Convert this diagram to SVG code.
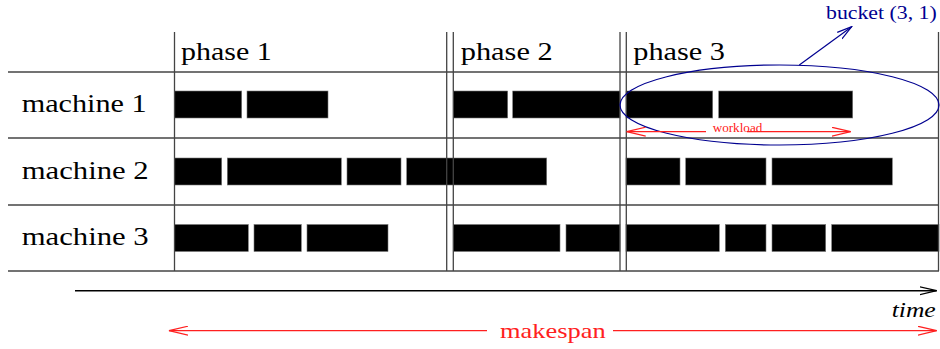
<svg xmlns="http://www.w3.org/2000/svg" width="940" height="349" viewBox="0 0 940 349">
<defs>
<style>
.grid{stroke:#444;stroke-width:1.3;fill:none}
.bar{fill:#000;stroke:#777;stroke-width:0.6}
.red{stroke:#ff2020;stroke-width:1.3;fill:none}
.blue{stroke:#000090;stroke-width:1.2;fill:none}
</style>
<marker id="openBlack" viewBox="0 0 18 10" refX="17" refY="5" markerWidth="18" markerHeight="10" markerUnits="userSpaceOnUse" orient="auto-start-reverse">
<path d="M0,1 L17,5 L0,9" fill="none" stroke="#000" stroke-width="1.2"/>
</marker>
<marker id="openRed" viewBox="0 0 20 10" refX="19" refY="5" markerWidth="20" markerHeight="10" markerUnits="userSpaceOnUse" orient="auto-start-reverse">
<path d="M0,0.5 L19,5 L0,9.5" fill="none" stroke="#ff2020" stroke-width="1.2"/>
</marker>
<marker id="openBlue" viewBox="0 0 16 10" refX="15" refY="5" markerWidth="16" markerHeight="10" markerUnits="userSpaceOnUse" orient="auto">
<path d="M0,1 L15,5 L0,9" fill="none" stroke="#000090" stroke-width="1.2"/>
</marker>
</defs>
<rect width="940" height="349" fill="#fff"/>

<g id="grid">
<line class="grid" x1="8" y1="72" x2="939" y2="72"/>
<line class="grid" x1="8" y1="138" x2="939" y2="138"/>
<line class="grid" x1="8" y1="205" x2="939" y2="205"/>
<line class="grid" x1="8" y1="271" x2="939" y2="271"/>
</g>

<g id="machine1">
<text x="21.7" y="112" font-family="Liberation Serif, Times New Roman, serif" font-size="25" fill="#000" textLength="125" lengthAdjust="spacingAndGlyphs">machine 1</text>
<rect class="bar" x="174.5" y="91" width="67.2" height="27"/>
<rect class="bar" x="247" y="91" width="81" height="27"/>
<rect class="bar" x="453.3" y="91" width="54.4" height="27"/>
<rect class="bar" x="512.7" y="91" width="107.3" height="27"/>
<rect class="bar" x="626" y="91" width="86.7" height="27"/>
<rect class="bar" x="718.7" y="91" width="134" height="27"/>
</g>

<g id="machine2">
<text x="21.7" y="178.5" font-family="Liberation Serif, Times New Roman, serif" font-size="25" fill="#000" textLength="127" lengthAdjust="spacingAndGlyphs">machine 2</text>
<rect class="bar" x="174.5" y="158" width="47.2" height="27"/>
<rect class="bar" x="227.3" y="158" width="114" height="27"/>
<rect class="bar" x="347" y="158" width="54" height="27"/>
<rect class="bar" x="406.7" y="158" width="140" height="27"/>
<rect class="bar" x="626" y="158" width="54" height="27"/>
<rect class="bar" x="685.7" y="158" width="80.3" height="27"/>
<rect class="bar" x="772" y="158" width="120.3" height="27"/>
</g>

<g id="machine3">
<text x="21.7" y="245" font-family="Liberation Serif, Times New Roman, serif" font-size="25" fill="#000" textLength="127" lengthAdjust="spacingAndGlyphs">machine 3</text>
<rect class="bar" x="174.5" y="224.5" width="73.8" height="27"/>
<rect class="bar" x="254" y="224.5" width="47.3" height="27"/>
<rect class="bar" x="307" y="224.5" width="81" height="27"/>
<rect class="bar" x="453.3" y="224.5" width="106.7" height="27"/>
<rect class="bar" x="566" y="224.5" width="54" height="27"/>
<rect class="bar" x="626" y="224.5" width="93.3" height="27"/>
<rect class="bar" x="725.3" y="224.5" width="40.7" height="27"/>
<rect class="bar" x="772" y="224.5" width="53.7" height="27"/>
<rect class="bar" x="831.7" y="224.5" width="107.3" height="27"/>
</g>

<g id="phases">
<line class="grid" x1="174.5" y1="32" x2="174.5" y2="271"/>
<line class="grid" x1="446.7" y1="32" x2="446.7" y2="271"/>
<line class="grid" x1="453.3" y1="32" x2="453.3" y2="271"/>
<line class="grid" x1="620" y1="32" x2="620" y2="271"/>
<line class="grid" x1="626.3" y1="32" x2="626.3" y2="271"/>
<line class="grid" x1="938.5" y1="32" x2="938.5" y2="271"/>
<text x="181" y="59.5" font-family="Liberation Serif, Times New Roman, serif" font-size="25" fill="#000" textLength="90.7" lengthAdjust="spacingAndGlyphs">phase 1</text>
<text x="460.7" y="59.5" font-family="Liberation Serif, Times New Roman, serif" font-size="25" fill="#000" textLength="92" lengthAdjust="spacingAndGlyphs">phase 2</text>
<text x="633.3" y="59.5" font-family="Liberation Serif, Times New Roman, serif" font-size="25" fill="#000" textLength="91.7" lengthAdjust="spacingAndGlyphs">phase 3</text>
</g>

<g id="bucket">
<ellipse class="blue" cx="779.5" cy="105" rx="159.5" ry="40"/>
<text x="826" y="18.5" font-family="Liberation Serif, Times New Roman, serif" font-size="18.5" fill="#000090" textLength="110.7" lengthAdjust="spacingAndGlyphs">bucket (3, 1)</text>
</g>

<g id="connectors">
<line class="blue" x1="799.3" y1="65" x2="851.7" y2="26.7" marker-end="url(#openBlue)"/>
<line class="red" x1="706" y1="131.7" x2="626.7" y2="131.7" marker-end="url(#openRed)"/>
<line class="red" x1="747" y1="131.7" x2="850.7" y2="131.7" marker-end="url(#openRed)"/>
<line x1="75" y1="290.7" x2="936.7" y2="290.7" stroke="#000" stroke-width="1.5" marker-end="url(#openBlack)"/>
<line class="red" x1="487" y1="330.7" x2="169" y2="330.7" marker-end="url(#openRed)"/>
<line class="red" x1="613" y1="330.7" x2="936.7" y2="330.7" marker-end="url(#openRed)"/>
</g>

<g id="labels">
<text x="712.7" y="131.5" font-family="Liberation Serif, Times New Roman, serif" font-size="11.5" fill="#ff2020" textLength="49.6" lengthAdjust="spacingAndGlyphs">workload</text>
<text x="891.7" y="317" font-family="Liberation Serif, Times New Roman, serif" font-style="italic" font-size="22" fill="#000" textLength="44" lengthAdjust="spacingAndGlyphs">time</text>
<text x="500" y="337.7" font-family="Liberation Serif, Times New Roman, serif" font-size="22" fill="#ff2020" textLength="105.7" lengthAdjust="spacingAndGlyphs">makespan</text>
</g>
</svg>
